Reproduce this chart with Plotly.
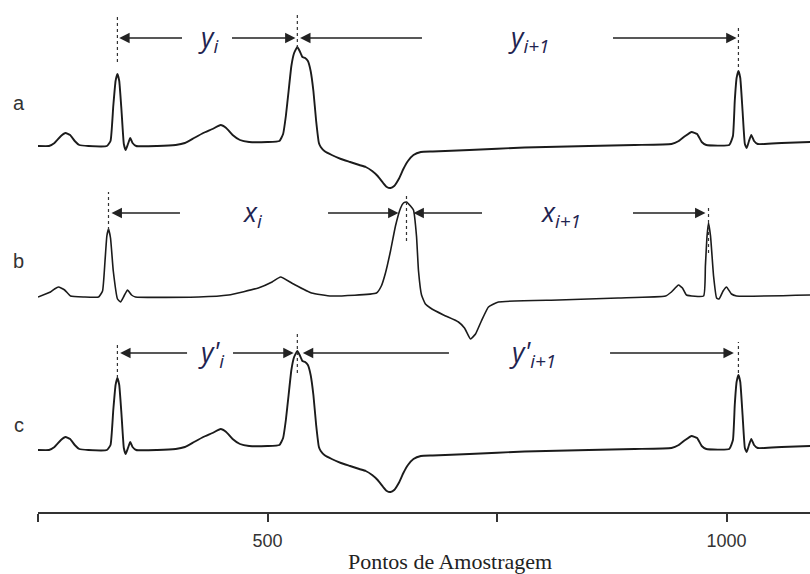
import plotly.graph_objects as go

# ---------------- data ----------------
# a: original signal (sample index, amplitude)
samples_a = [250, 262, 268, 275, 280, 285, 290, 295, 305, 325,
             329, 332, 334.5, 336.5, 338.5, 341, 343.5, 345.5, 348, 350.5,
             353, 357, 380, 400, 410, 420, 430, 440, 449, 455,
             462, 470, 480, 500, 513, 517, 520, 523, 526, 529,
             532.5, 535, 538, 541, 544, 547, 550, 553, 556, 558,
             562, 570, 580, 590, 600, 607, 614, 620, 626, 630,
             634, 638, 643, 648, 653, 659, 667, 680, 720, 780,
             850, 900, 940, 948, 955, 962, 968, 973, 978, 1003,
             1007, 1009, 1011, 1013, 1015, 1017.5, 1020, 1022, 1024.5, 1027,
             1030, 1034, 1060, 1091]
ecg_a = [0.00, 0.00, 0.03, 0.10, 0.13, 0.11, 0.05, 0.01, 0.00, 0.00,
         0.05, 0.40, 0.65, 0.72, 0.65, 0.35, 0.02, -0.04, 0.02, 0.08,
         0.03, 0.00, 0.00, 0.01, 0.03, 0.08, 0.13, 0.17, 0.21, 0.18,
         0.11, 0.06, 0.04, 0.04, 0.05, 0.12, 0.30, 0.55, 0.80, 0.93,
         0.99, 0.95, 0.89, 0.88, 0.85, 0.75, 0.55, 0.25, 0.03, -0.01,
         -0.05, -0.09, -0.13, -0.16, -0.19, -0.21, -0.25, -0.30, -0.37, -0.41,
         -0.42, -0.40, -0.33, -0.23, -0.15, -0.09, -0.06, -0.055, -0.04, -0.015,
         0.00, 0.01, 0.02, 0.05, 0.10, 0.14, 0.12, 0.04, 0.01, 0.01,
         0.10, 0.45, 0.68, 0.75, 0.68, 0.35, 0.02, -0.02, 0.05, 0.11,
         0.05, 0.02, 0.03, 0.04]

# b: second signal
samples_b = [250, 263.6, 268, 272.3, 279, 285.4, 300, 316, 320.3, 323,
             325, 326.8, 329, 332, 336.6, 339.9, 343.7, 347.5, 351.9, 356.2,
             425, 457.5, 490, 505, 514.2, 528.3, 548, 569.7, 618.7, 624,
             628.5, 634, 639.4, 645, 648.1, 651.4, 655.8, 659, 662.3, 664.5,
             667.8, 672, 677.5, 691.7, 708, 714.6, 721.1, 726.6, 733, 740.7,
             751.6, 817, 882, 933.6, 940, 947.7, 952, 956.4, 975, 977,
             978.8, 980.4, 982.6, 985.9, 989.2, 991.9, 996.3, 1000, 1005.4, 1010.9,
             1091]
ecg_b = [-0.01, 0.04, 0.07, 0.09, 0.06, 0.00, -0.01, -0.01, 0.05, 0.35,
         0.60, 0.67, 0.58, 0.25, -0.03, -0.06, 0.00, 0.06, 0.01, -0.01,
         -0.01, 0.01, 0.08, 0.14, 0.19, 0.12, 0.03, 0.00, 0.03, 0.10,
         0.23, 0.45, 0.70, 0.88, 0.93, 0.94, 0.90, 0.86, 0.60, 0.25,
         0.01, -0.08, -0.12, -0.19, -0.26, -0.32, -0.43, -0.38, -0.25, -0.11,
         -0.06, -0.04, -0.02, 0.00, 0.04, 0.11, 0.08, 0.01, 0.00, 0.30,
         0.60, 0.73, 0.60, 0.20, -0.02, -0.03, 0.05, 0.09, 0.02, 0.00,
         0.01]

# c: reconstructed signal (same as a)
samples_c = list(samples_a)
ecg_c = list(ecg_a)

# fiducial points (R peak, wide peak, next R peak)
peaks_a = [336.5, 532.5, 1013]
peaks_b = [326.8, 651.4, 980.4]
peaks_c = [336.5, 532.5, 1013]

labels_a = ["<i>y</i><sub><i>i</i></sub>", "<i>y</i><sub><i>i+1</i></sub>"]
labels_b = ["<i>x</i><sub><i>i</i></sub>", "<i>x</i><sub><i>i+1</i></sub>"]
labels_c = ["<i>y'</i><sub><i>i</i></sub>", "<i>y'</i><sub><i>i+1</i></sub>"]

row_names = ["a", "b", "c"]
tick_vals = [250, 500, 750, 1000]
tick_text = ["", "500", "", "1000"]
x_title = "Pontos de Amostragem"

# ---------------- layout helpers ----------------
W, H = 810, 574
ML, MR, MT, MB = 38, 0, 0, 62
PH = H - MT - MB
PW = W - ML - MR
X0 = 250
PX_PER_SAMPLE = 0.918
X1 = X0 + PW / PX_PER_SAMPLE
PX_PER_UNIT = 100.0


def band(top_px, bot_px, base_px):
    dom = [(PH - bot_px) / PH, (PH - top_px) / PH]
    rng = [-(bot_px - base_px) / PX_PER_UNIT, (base_px - top_px) / PX_PER_UNIT]
    return dom, rng


def paper(px, py):
    return (px - ML) / PW, (PH - py) / PH


rows = [
    dict(s=samples_a, v=ecg_a, peaks=peaks_a, labels=labels_a, band=(0, 200, 146),
         ax="y", arrow_y=1.08, width=1.9,
         tails=[408.5, 459.7, 669.9, 874.7], tipoff=[2, -2, 3, -2],
         label_x=[435.7, 784.3],
         dots=[(1.31, 0.84), (1.31, 0.98), (1.21, 0.79)], name_py=103),
    dict(s=samples_b, v=ecg_b, peaks=peaks_b, labels=labels_b, band=(165, 360, 296),
         ax="y2", arrow_y=0.83, width=1.6,
         tails=[406.3, 564.3, 735.3, 896.5], tipoff=[3.3, -8.7, 7.6, -3.3],
         label_x=[483.7, 820.0],
         dots=[(1.04, 0.66), (1.02, 0.55), (0.89, 0.43)], name_py=261),
    dict(s=samples_c, v=ecg_c, peaks=peaks_c, labels=labels_c, band=(315, 512, 450),
         ax="y3", arrow_y=0.97, width=1.9,
         tails=[414.0, 460.8, 699.3, 871.5], tipoff=[3, -4, 6, -5],
         label_x=[438.0, 788.7],
         dots=[(1.07, 0.72), (1.17, 0.77), (1.08, 0.77)], name_py=425),
]

fig = go.Figure()
annotations = []
shapes = []
line_col = "#1b1b1b"
text_col = "#1f2450"

for i, r in enumerate(rows):
    fig.add_trace(go.Scatter(
        x=r["s"], y=r["v"], mode="lines", xaxis="x", yaxis=r["ax"],
        line=dict(color=line_col, width=r["width"], shape="spline", smoothing=0.4),
        hoverinfo="skip", showlegend=False))
    yref = r["ax"]
    p = r["peaks"]
    # dotted markers at fiducial points
    for pk, (yt, yb) in zip(p, r["dots"]):
        shapes.append(dict(type="line", xref="x", yref=yref, x0=pk, x1=pk, y0=yb, y1=yt,
                           line=dict(color="#333", width=1.2, dash="dot")))
    # arrows: interval 1 (p0 -> p1), interval 2 (p1 -> p2)
    tips = [p[0] + r["tipoff"][0], p[1] + r["tipoff"][1],
            p[1] + r["tipoff"][2], p[2] + r["tipoff"][3]]
    for tail, tip in zip(r["tails"], tips):
        annotations.append(dict(
            x=tip, y=r["arrow_y"], ax=tail, ay=r["arrow_y"],
            xref="x", yref=yref, axref="x", ayref=yref,
            text="", showarrow=True, arrowhead=2, arrowsize=1.3,
            arrowwidth=1.6, arrowcolor="#222", standoff=0, startstandoff=0))
    for lab, lx in zip(r["labels"], r["label_x"]):
        annotations.append(dict(
            x=lx, y=r["arrow_y"], xref="x", yref=yref, text=lab, showarrow=False,
            xanchor="center", yanchor="middle",
            font=dict(family="Open Sans", size=27, color=text_col)))
    nx, ny = paper(18.5, r["name_py"])
    annotations.append(dict(
        x=nx, y=ny, xref="paper", yref="paper", text=row_names[i], showarrow=False,
        xanchor="center", yanchor="middle",
        font=dict(family="Liberation Sans", size=20, color="#333")))

tx, ty = paper(450, 561)
annotations.append(dict(
    x=tx, y=ty, xref="paper", yref="paper", text=x_title, showarrow=False,
    xanchor="center", yanchor="middle",
    font=dict(family="Liberation Serif", size=22, color="#222")))

layout = dict(
    width=W, height=H,
    margin=dict(l=ML, r=MR, t=MT, b=MB, pad=0),
    paper_bgcolor="white", plot_bgcolor="rgba(0,0,0,0)",
    showlegend=False,
    xaxis=dict(domain=[0, 1], range=[X0, X1], anchor="y3",
               showline=True, linecolor="#333", linewidth=2,
               ticks="outside", ticklen=8, tickwidth=2, tickcolor="#333",
               tickvals=tick_vals, ticktext=tick_text, ticklabelstandoff=3,
               tickfont=dict(family="Liberation Sans", size=18, color="#333"),
               showgrid=False, zeroline=False),
    annotations=annotations,
    shapes=shapes,
)
for r in rows:
    dom, rng = band(*r["band"])
    key = "yaxis" if r["ax"] == "y" else "yaxis" + r["ax"][1:]
    layout[key] = dict(domain=dom, range=rng, visible=False, anchor="x",
                       showgrid=False, zeroline=False, fixedrange=True)

fig.update_layout(**layout)
fig.write_html("out.html", config={"displayModeBar": False},
               post_script="document.body.style.margin='0';document.body.style.overflow='hidden';")
